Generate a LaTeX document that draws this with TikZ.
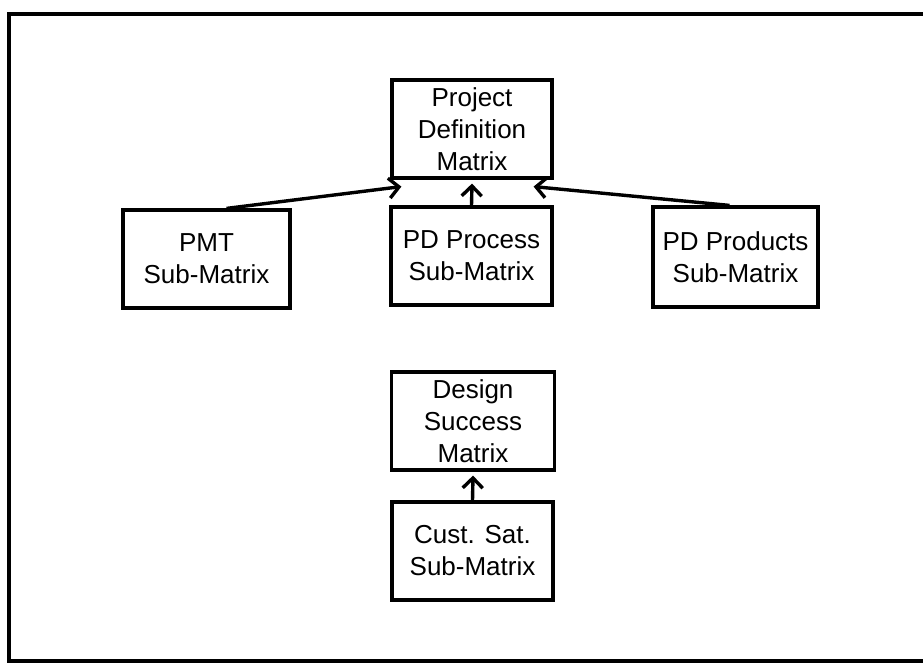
\documentclass[tikz,border=0pt]{standalone}
\usepackage{fontspec}
\setmainfont{Liberation Sans}
\usetikzlibrary{arrows.meta}
\begin{document}
\begin{tikzpicture}[x=1pt,y=-1pt,
  box/.style={draw=black, line width=3.2pt, align=center, inner sep=0pt,
    font=\fontsize{26}{32}\selectfont, minimum height=98pt},
  conn/.style={line width=3.4pt, -{Straight Barb[length=10pt,width=20pt,line width=3.4pt]}}]
\useasboundingbox (0,0) rectangle (923,664);
\clip (0,0) rectangle (923,664);
\fill[white] (0,0) rectangle (923,664);
\draw[line width=4.5pt] (9,14) rectangle (940,661);
\node[box, minimum width=160pt] (pdm) at (472,129) {Project\\Definition\\Matrix};
\node[box, minimum width=167pt] (pmt) at (206.5,259) {PMT\\Sub-Matrix};
\node[box, minimum width=161pt] (pdp) at (471.5,256) {PD Process\\Sub-Matrix};
\node[box, minimum width=165pt, minimum height=100pt] (pdprod) at (735.5,257) {PD Products\\Sub-Matrix};
\node[box, minimum width=163pt] (dsm) at (473,421) {Design\\Success\\Matrix};
\node[box, minimum width=161pt] (cs) at (472.5,551) {Cust. Sat.\\Sub-Matrix};
\draw[conn] ([xshift=20pt]pmt.north) -- ([xshift=11pt,yshift=-7pt]pdm.south west);
\draw[conn] ([xshift=-6pt]pdprod.north) -- ([xshift=-20pt,yshift=-7pt]pdm.south east);
\draw[conn] (pdp.north) -- ([yshift=-4pt]pdm.south);
\draw[conn] (cs.north) -- ([yshift=-4pt]dsm.south);
\end{tikzpicture}
\end{document}
